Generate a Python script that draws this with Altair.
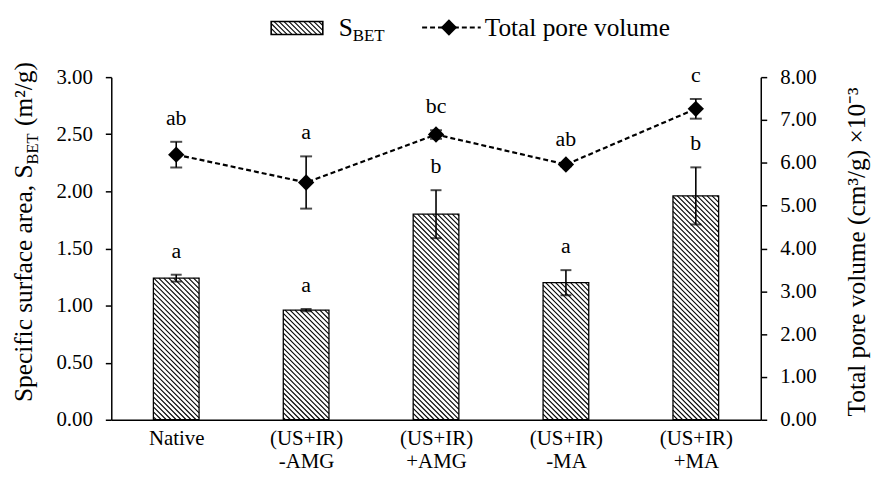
import json
import altair as alt
import pandas as pd

# ---------------- data ----------------
categories = ["Native", "(US+IR)\n-AMG", "(US+IR)\n+AMG", "(US+IR)\n-MA", "(US+IR)\n+MA"]
sbet = [1.24, 0.96, 1.80, 1.20, 1.96]
sbet_err = [0.03, 0.01, 0.21, 0.11, 0.25]
sbet_letters = ["a", "a", "b", "a", "b"]
pore = [6.19, 5.54, 6.66, 5.96, 7.26]
pore_err = [0.30, 0.61, 0.10, 0.04, 0.23]
pore_letters = ["ab", "a", "bc", "ab", "c"]
left_ticks = [0, 0.5, 1.0, 1.5, 2.0, 2.5, 3.0]
right_ticks = [0, 1, 2, 3, 4, 5, 6, 7, 8]

# ---------------- layout ----------------
W, H = 654, 345
PAD = {"left": 104, "top": 68, "right": 111, "bottom": 52}
FONT = "Liberation Serif"
XDOM = [-0.5, 4.5]
YL = [0, 3]
YR = [0, 8]
SX = W / (XDOM[1] - XDOM[0])
SY = H / (YL[1] - YL[0])
BAR_HALF_PX = 23
HATCH_STEP = 5.0

n = len(categories)
df = pd.DataFrame({
    "x": list(range(n)),
    "cat": categories,
    "sbet": sbet,
    "sbet_lo": [v - e for v, e in zip(sbet, sbet_err)],
    "sbet_hi": [v + e for v, e in zip(sbet, sbet_err)],
    "sbet_letter": sbet_letters,
    "pore": pore,
    "pore_lo": [v - e for v, e in zip(pore, pore_err)],
    "pore_hi": [v + e for v, e in zip(pore, pore_err)],
    "pore_letter": pore_letters,
})
df["x0"] = df["x"] - BAR_HALF_PX / SX
df["x1"] = df["x"] + BAR_HALF_PX / SX
df["zero"] = 0.0


def hatch(x0, x1, y0, y1, step):
    """segments of lines X+Y=c inside rectangle (pixel units, y up)"""
    segs = []
    k = int((x0 + y0) // step)
    while k * step <= x1 + y1:
        c = k * step
        xs = max(x0, c - y1)
        xe = min(x1, c - y0)
        if xe - xs > 0.3:
            segs.append((xs, c - xs, xe, c - xe))
        k += 1
    return segs


rows = []
for i, v in enumerate(sbet):
    cx = i * SX
    for xs, ys, xe, ye in hatch(cx - BAR_HALF_PX, cx + BAR_HALF_PX, 0, v * SY, HATCH_STEP):
        rows.append({"hx": xs / SX, "hy": ys / SY, "hx2": xe / SX, "hy2": ye / SY})
hatch_df = pd.DataFrame(rows)

xscale = alt.Scale(domain=XDOM, nice=False, zero=False)
label_lists = [c.split("\n") for c in categories]
xaxis = alt.Axis(
    values=list(range(n)), labelExpr=f"{json.dumps(label_lists)}[round(datum.value)]",
    ticks=False, grid=False, title=None, domainColor="black", domainWidth=1.5,
    labelFont=FONT, labelFontSize=21, labelColor="black", labelPadding=8,
    labelLineHeight=23, labelBaseline="top",
)
yl_scale = alt.Scale(domain=YL, nice=False)
yr_scale = alt.Scale(domain=YR, nice=False)
axis_common = dict(
    grid=False, title=None, format=".2f", tickSize=6, tickColor="black", tickWidth=1.5,
    domainColor="black", domainWidth=1.5, labelFont=FONT, labelFontSize=21,
    labelColor="black", labelPadding=13,
)
yl_axis = alt.Axis(values=left_ticks, orient="left", **axis_common)
yr_axis = alt.Axis(values=right_ticks, orient="right", **axis_common)

X = alt.X("x:Q", scale=xscale, axis=xaxis)
Xn = alt.X("x:Q", scale=xscale, axis=None)

base = alt.Chart(df)

# ---------------- bars (left axis) ----------------
bars = base.mark_rect(fill="white", stroke="black", strokeWidth=1.3).encode(
    x=alt.X("x0:Q", scale=xscale, axis=xaxis), x2="x1:Q",
    y=alt.Y("zero:Q", scale=yl_scale, axis=yl_axis), y2="sbet:Q",
)
hatch_lines = alt.Chart(hatch_df).mark_rule(color="black", strokeWidth=1.1).encode(
    x=alt.X("hx:Q", scale=xscale, axis=xaxis), y=alt.Y("hy:Q", scale=yl_scale, axis=yl_axis),
    x2="hx2:Q", y2="hy2:Q",
)
bar_err = base.mark_rule(color="black", strokeWidth=1.6).encode(
    x=X, y=alt.Y("sbet_lo:Q", scale=yl_scale, axis=yl_axis), y2="sbet_hi:Q",
)
bar_cap_hi = base.mark_tick(orient="horizontal", color="black", size=11, thickness=2).encode(
    x=X, y=alt.Y("sbet_hi:Q", scale=yl_scale, axis=yl_axis))
bar_cap_lo = base.mark_tick(orient="horizontal", color="black", size=11, thickness=2).encode(
    x=X, y=alt.Y("sbet_lo:Q", scale=yl_scale, axis=yl_axis))
bar_letters = base.mark_text(font=FONT, fontSize=22, baseline="bottom", dy=-12, color="black").encode(
    x=X, y=alt.Y("sbet_hi:Q", scale=yl_scale, axis=yl_axis), text="sbet_letter:N")
left = alt.layer(bars, hatch_lines, bar_err, bar_cap_hi, bar_cap_lo, bar_letters)

# ---------------- line (right axis) ----------------
YR_ = lambda f: alt.Y(f, scale=yr_scale, axis=yr_axis)
line = base.mark_line(color="black", strokeWidth=2.2, strokeDash=[5, 3]).encode(x=Xn, y=YR_("pore:Q"))
pore_err_rule = base.mark_rule(color="black", strokeWidth=1.6).encode(x=Xn, y=YR_("pore_lo:Q"), y2="pore_hi:Q")
pore_cap_hi = base.mark_tick(orient="horizontal", color="black", size=12, thickness=2).encode(x=Xn, y=YR_("pore_hi:Q"))
pore_cap_lo = base.mark_tick(orient="horizontal", color="black", size=12, thickness=2).encode(x=Xn, y=YR_("pore_lo:Q"))
pts = base.mark_point(shape="diamond", filled=True, color="black", size=270, opacity=1).encode(x=Xn, y=YR_("pore:Q"))
pore_lab = base.mark_text(font=FONT, fontSize=22, baseline="bottom", dy=-12, color="black").encode(
    x=Xn, y=YR_("pore_hi:Q"), text="pore_letter:N")
right = alt.layer(line, pore_err_rule, pore_cap_hi, pore_cap_lo, pts, pore_lab)

# ---------------- decorations: legend and axis titles ----------------
one = alt.Chart(pd.DataFrame({"k": [0]}))
LBX0, LBX1, LBY0, LBY1 = 161, 213, -56, -43
leg_rows = [{"px": a, "py": -b, "px2": c, "py2": -d}
            for a, b, c, d in hatch(LBX0, LBX1, -LBY1, -LBY0, HATCH_STEP)]
leg_hatch_df = pd.DataFrame(leg_rows)
pxs = alt.Scale(domain=[0, W], range=[0, W])
pys = alt.Scale(domain=[0, H], range=[0, H])
leg_box = one.mark_rect(fill="white", stroke="black", strokeWidth=1.6).encode(
    x=alt.value(LBX0), x2=alt.value(LBX1), y=alt.value(LBY0), y2=alt.value(LBY1))
leg_hatch = alt.Chart(leg_hatch_df).mark_rule(color="black", strokeWidth=1.1).encode(
    x=alt.X("px:Q", scale=pxs, axis=None), y=alt.Y("py:Q", scale=pys, axis=None),
    x2="px2:Q", y2="py2:Q")
LFS = 25.5
leg_s = one.mark_text(text="S", font=FONT, fontSize=LFS, align="left", baseline="alphabetic", color="black").encode(
    x=alt.value(229), y=alt.value(-41))
leg_bet = one.mark_text(text="BET", font=FONT, fontSize=17, align="left", baseline="alphabetic", color="black").encode(
    x=alt.value(229 + 0.556 * LFS), y=alt.value(-36))
leg_line = one.mark_rule(color="black", strokeWidth=2.2, strokeDash=[5, 3]).encode(
    x=alt.value(313), x2=alt.value(372), y=alt.value(-50))
leg_pt = one.mark_point(shape="diamond", filled=True, color="black", size=270, opacity=1).encode(
    x=alt.value(340), y=alt.value(-50))
leg_txt = one.mark_text(text="Total pore volume", font=FONT, fontSize=LFS, align="left",
                        baseline="alphabetic", color="black").encode(x=alt.value(376), y=alt.value(-41))

TFS = 25.5
SFS = 16.5
TX = -80
TJ = 88
title_a = one.mark_text(text="Specific surface area, S", font=FONT, fontSize=TFS, angle=270, align="right",
                        baseline="alphabetic", color="black").encode(x=alt.value(TX), y=alt.value(TJ))
title_b = one.mark_text(text="BET", font=FONT, fontSize=SFS, angle=270, align="left",
                        baseline="alphabetic", color="black").encode(x=alt.value(TX + 6), y=alt.value(TJ))
title_c = one.mark_text(text="(m\u00b2/g)", font=FONT, fontSize=TFS, angle=270, align="left",
                        baseline="alphabetic", color="black").encode(
    x=alt.value(TX), y=alt.value(TJ - 1.889 * SFS - 0.3 * TFS))
title_r = one.mark_text(text="Total pore volume (cm\u00b3/g) \u00d710\u207b\u00b3", font=FONT, fontSize=TFS,
                        angle=270, align="center", baseline="alphabetic", color="black").encode(
    x=alt.value(759), y=alt.value(176))

deco = alt.layer(leg_box, leg_hatch, leg_s, leg_bet, leg_line, leg_pt, leg_txt,
                 title_a, title_b, title_c, title_r)

chart = alt.layer(left, right, deco).resolve_scale(y="independent", x="independent").properties(
    width=W, height=H, padding=PAD, autosize=alt.AutoSizeParams(type="none"), background="white",
).configure_view(stroke=None)

chart.save("out.html", embed_options={"renderer": "svg", "actions": False})
